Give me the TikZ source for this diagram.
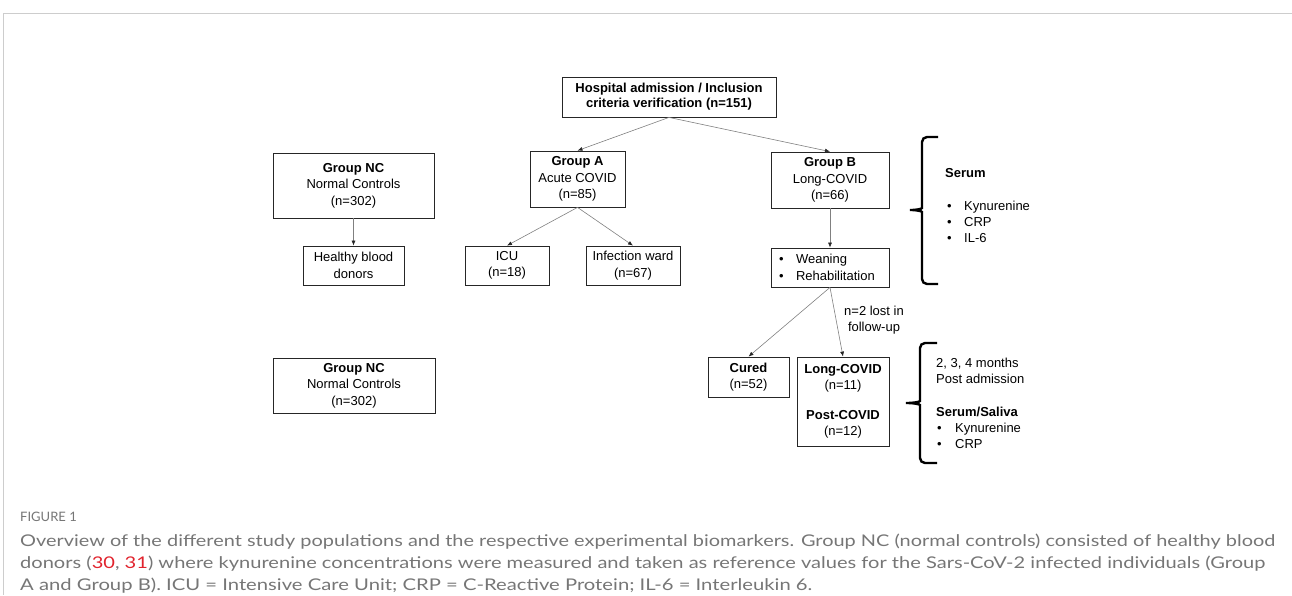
\documentclass[tikz,border=0pt]{standalone}
\usepackage{fontspec}
\usepackage{graphicx}
\usetikzlibrary{arrows.meta}
\newfontfamily\diagfont{Liberation Sans}
\newfontfamily\capfont{Lato}
\definecolor{capgray}{RGB}{118,118,118}
\definecolor{citered}{RGB}{225,35,45}
\definecolor{framegray}{RGB}{205,205,205}

\begin{document}
\begin{tikzpicture}[x=1pt, y=-1pt,
        every node/.style={font=\diagfont\fontsize{13}{16.5}\selectfont, inner sep=0pt},
        box/.style={draw=black!85, line width=0.8pt, align=center},
        arr/.style={draw=black!50, line width=0.6pt, -{Latex[length=5pt,width=4pt,black!85]}},
        brace/.style={line width=2.4pt, rounded corners=5pt},
        txt/.style={anchor=west, align=left, text height=9.5pt, text depth=2.5pt},
        capline/.style={anchor=base west, text=capgray, font=\capfont\fontsize{17}{22}\selectfont}]
        \useasboundingbox (0,0) rectangle (1292,595);
        \draw [framegray, line width=1pt] (1292,13) -- (3,13) -- (3,595);

        % boxes
        \node [box, minimum width=214pt, minimum height=40pt, font=\diagfont\bfseries\fontsize{13}{15}\selectfont] (admit) at (669,97) {Hospital admission / Inclusion\\criteria verification (n=151)};
        \node [box, minimum width=161pt, minimum height=65pt] (ncA) at (353.5,185.5) {\textbf{Group NC}\\Normal Controls\\(n=302)};
        \node [box, minimum width=95pt, minimum height=56pt] (grpA) at (577.5,179) {\textbf{Group A}\\Acute COVID\\(n=85)};
        \node [box, minimum width=118pt, minimum height=56pt] (grpB) at (830,180) {\textbf{Group B}\\Long-COVID\\(n=66)};

        \node [box, minimum width=101pt, minimum height=39pt] (donors) at (353.5,265.5) {Healthy blood\\donors};
        \node [box, minimum width=84pt, minimum height=39pt] (icu) at (507,265.5) {ICU\\(n=18)};
        \node [box, minimum width=94pt, minimum height=39pt] (ward) at (633,265.5) {Infection ward\\(n=67)};
        \node [box, minimum height=39pt, text width=102pt, inner xsep=8pt, align=left] (wean) at (830,267.5) {\makebox[17pt][l]{•}Weaning\\\makebox[17pt][l]{•}Rehabilitation};

        \node [box, minimum width=81pt, minimum height=40pt] (cured) at (748.5,377) {\textbf{Cured}\\(n=52)};
        \node [box, minimum width=92pt, minimum height=89pt] (lcovid) at (843,401.5) {\textbf{Long-COVID}\\(n=11)\\[13pt]\textbf{Post-COVID}\\(n=12)};
        \node [box, minimum width=162pt, minimum height=55pt] (ncB) at (354,385.5) {\textbf{Group NC}\\Normal Controls\\(n=302)};

        \node [align=center] (lost) at (874,320) {n=2 lost in\\follow-up};

        % arrows
        \draw [arr] (admit.south) -- (grpA.north);
        \draw [arr] (admit.south) -- (grpB.north);
        \draw [arr] (ncA.south) -- (donors.north);
        \draw [arr] (grpA.south) -- (icu.north);
        \draw [arr] (grpA.south) -- (ward.north);
        \draw [arr] (grpB.south) -- (wean.north);
        \draw [arr] (wean.south) -- (cured.north);
        \draw [arr] (wean.south) -- (lcovid.north);

        % braces
        \draw [brace] (938,137) -- (922,137) -- (922,203) .. controls (922,209) and (915,210) .. (907,210) .. controls (915,210) and (922,211) .. (922,217) -- (922,284) -- (938,284);
        \draw [brace] (937,343) -- (920,343) -- (920,396) .. controls (920,402) and (912,403) .. (903,403) .. controls (912,403) and (920,404) .. (920,410) -- (920,463) -- (937,463);

        % biomarkers
        \node [txt, font=\diagfont\bfseries\fontsize{13}{16.5}\selectfont] (serum) at (945,174) {Serum};
        \node [txt] (kyn1) at (947,207) {\makebox[17pt][l]{•}Kynurenine};
        \node [txt] (crp1) at (947,223) {\makebox[17pt][l]{•}CRP};
        \node [txt] (il6) at (947,239) {\makebox[17pt][l]{•}IL-6};

        \node [txt] (months) at (936,364) {2, 3, 4 months};
        \node [txt] (postadm) at (936,380) {Post admission};
        \node [txt, font=\diagfont\bfseries\fontsize{13}{16.5}\selectfont] (saliva) at (936,413) {Serum/Saliva};
        \node [txt] (kyn2) at (937,429) {\makebox[18pt][l]{•}Kynurenine};
        \node [txt] (crp2) at (937,445) {\makebox[18pt][l]{•}CRP};

        % caption
        \node [anchor=west, text=capgray, font=\capfont\fontsize{13}{15}\selectfont] (figlabel) at (20,517) {FIGURE 1};
        \node [capline] (capA) at (20,546) {\resizebox{1255pt}{12.5pt}{Overview of the different study populations and the respective experimental biomarkers. Group NC (normal controls) consisted of healthy blood}};
        \node [capline] (capB) at (20,568) {\resizebox{1245pt}{12.5pt}{donors (\textcolor{citered}{30}, \textcolor{citered}{31}) where kynurenine concentrations were measured and taken as reference values for the Sars-CoV-2 infected individuals (Group}};
        \node [capline] (capC) at (20,590) {\resizebox{792pt}{12.5pt}{A and Group B). ICU = Intensive Care Unit; CRP = C-Reactive Protein; IL-6 = Interleukin 6.}};
\end{tikzpicture}
\end{document}
